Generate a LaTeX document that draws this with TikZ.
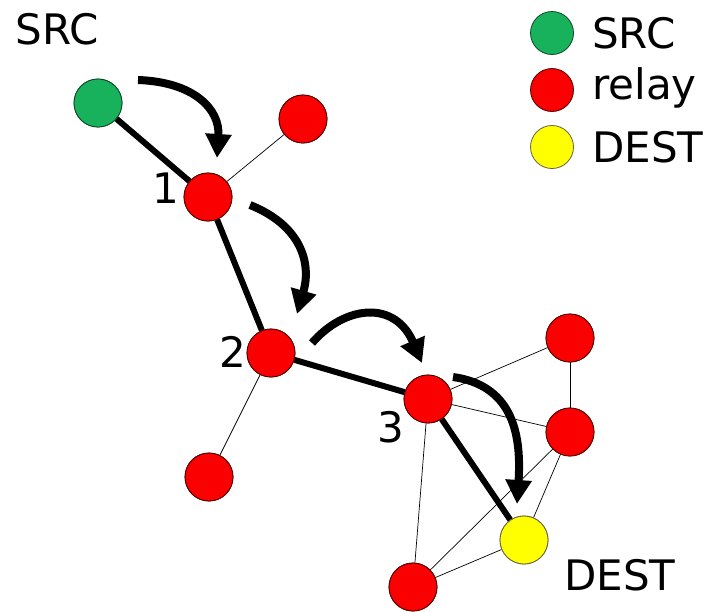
\documentclass[tikz,border=0pt]{standalone}
\usepackage{fontspec}
\setmainfont{DejaVu Sans}
\usetikzlibrary{arrows.meta}
\definecolor{srcgreen}{RGB}{24,178,92}
\definecolor{relayred}{RGB}{250,0,0}
\definecolor{destyellow}{RGB}{255,255,0}
\begin{document}
\begin{tikzpicture}[x=1pt,y=-1pt,
  station/.style={circle,draw=black!70!red,line width=0.8pt,minimum size=48pt,inner sep=0pt},
  srcnode/.style={station,fill=srcgreen,draw=black!60!srcgreen},
  relaynode/.style={station,fill=relayred},
  destnode/.style={station,fill=destyellow,draw=black!70!yellow},
  keydot/.style={minimum size=43pt},
  thinlink/.style={line width=0.7pt},
  thicklink/.style={line width=6pt},
  hop/.style={line width=8pt,-{Triangle[width=25pt,length=24pt]}},
  lbl/.style={font=\fontsize{42}{42}\selectfont,inner sep=0pt}]
\useasboundingbox (0,0) rectangle (710,611);
\fill[white] (0,0) rectangle (710,611);

% network stations
\node[relaynode] (t)  at (303,119) {};
\node[relaynode] (r1) at (208,197) {};
\node[relaynode] (r2) at (271,353) {};
\node[relaynode] (b)  at (209,477) {};
\node[relaynode] (r3) at (428,399) {};
\node[relaynode] (ur) at (570,338) {};
\node[relaynode] (mr) at (570,432) {};
\node[destnode]  (d)  at (524,540) {};
\node[relaynode] (lo) at (413,587) {};
\node[srcnode]   (s)  at (98,103) {};

% links
\draw[thinlink] (r1) -- (t);
\draw[thinlink] (r2) -- (b);
\draw[thinlink] (r3) -- (ur);
\draw[thinlink] (r3) -- (mr);
\draw[thinlink] (r3) -- (lo);
\draw[thinlink] (ur) -- (mr);
\draw[thinlink] (mr) -- (d);
\draw[thinlink] (mr) -- (lo);
\draw[thinlink] (d) -- (lo);
\draw[thicklink] (s) -- (r1);
\draw[thicklink] (r1) -- (r2);
\draw[thicklink] (r2) -- (r3);
\draw[thicklink] (r3) -- (d);

% redraw stations on top of the links
\node[srcnode]   at (s)  {};
\node[relaynode] at (t)  {};
\node[relaynode] at (r1) {};
\node[relaynode] at (r2) {};
\node[relaynode] at (b)  {};
\node[relaynode] at (r3) {};
\node[relaynode] at (ur) {};
\node[relaynode] at (mr) {};
\node[destnode]  at (d)  {};
\node[relaynode] at (lo) {};

% hop arrows
\coordinate (a1s) at (138,80);  \coordinate (a1e) at (217,158);
\coordinate (a2s) at (250,205); \coordinate (a2e) at (297,314);
\coordinate (a3s) at (312,343); \coordinate (a3e) at (422,363);
\coordinate (a4s) at (453,377); \coordinate (a4e) at (517,504);
\draw[hop] (a1s) .. controls (195,82) and (220,110) .. (a1e);
\draw[hop] (a2s) .. controls (300,225) and (312,262) .. (a2e);
\draw[hop] (a3s) .. controls (345,305) and (395,300) .. (a3e);
\draw[hop] (a4s) .. controls (510,385) and (522,430) .. (a4e);

% labels
\node[lbl] (lsrc)  at (57,29) {SRC};
\node[lbl] (l1)    at (166,188) {1};
\node[lbl] (l2)    at (233,352) {2};
\node[lbl] (l3)    at (391,427) {3};
\node[lbl] (ldest) at (620,575) {DEST};

% legend
\node[srcnode,keydot]   (k1) at (552,33) {};
\node[relaynode,keydot] (k2) at (552,90) {};
\node[destnode,keydot]  (k3) at (552,147) {};
\node[lbl,anchor=west] (t1) at (592,33) {SRC};
\node[lbl,anchor=west] (t2) at (592,88) {relay};
\node[lbl,anchor=west] (t3) at (592,147) {DEST};
\end{tikzpicture}
\end{document}
